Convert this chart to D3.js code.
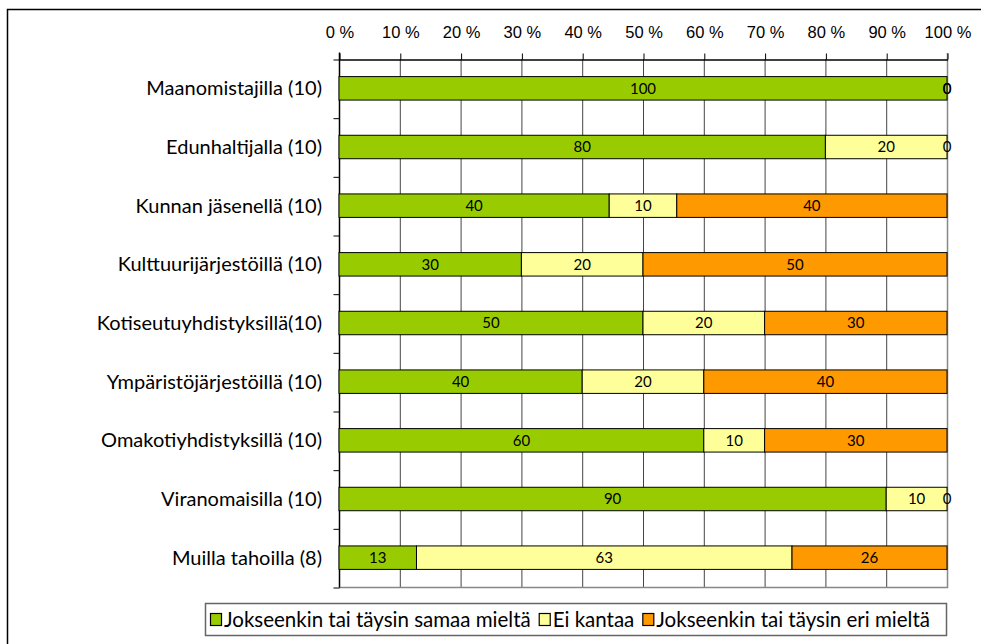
<!DOCTYPE html>
<html>
<head>
<meta charset="utf-8">
<script src="https://cdn.jsdelivr.net/npm/d3@7"></script>
<style>
  body { margin: 0; background: #fff; }
  svg { display: block; font-family: Lato, "Open Sans", sans-serif; }
</style>
</head>
<body>
<svg width="981" height="644"></svg>
<script>
// categories and the three answer shares (as printed on the bars)
const categories = [
  'Maanomistajilla (10)',
  'Edunhaltijalla (10)',
  'Kunnan jäsenellä (10)',
  'Kulttuurijärjestöillä (10)',
  'Kotiseutuyhdistyksillä(10)',
  'Ympäristöjärjestöillä (10)',
  'Omakotiyhdistyksillä (10)',
  'Viranomaisilla (10)',
  'Muilla tahoilla (8)'
];
const samaa = [100, 80, 40, 30, 50, 40, 60, 90, 13];
const eiKantaa = [0, 20, 10, 20, 20, 20, 10, 10, 63];
const eri = [0, 0, 40, 50, 30, 40, 30, 0, 26];
const seriesNames = ['Jokseenkin tai täysin samaa mieltä', 'Ei kantaa', 'Jokseenkin tai täysin eri mieltä'];
const seriesColors = ['#99cc00', '#ffff99', '#ff9900'];
const tickValues = [0, 10, 20, 30, 40, 50, 60, 70, 80, 90, 100];

const svg = d3.select('svg');
const margin = { top: 59, left: 339, right: 947, bottom: 587 };

// outer frame (runs off the right and bottom of the picture)
svg.append('rect')
  .attr('x', 7.5).attr('y', 9.5)
  .attr('width', 1000).attr('height', 700)
  .attr('fill', 'none').attr('stroke', '#000').attr('stroke-width', 1.5);

const x = d3.scaleLinear().domain([0, 100]).range([margin.left, margin.right]);
const y = d3.scaleBand().domain(categories)
  .range([margin.top, margin.bottom])
  .paddingInner(0.6).paddingOuter(0.3);

// gridlines
svg.append('g').selectAll('line')
  .data(tickValues.slice(1, -1))
  .join('line')
  .attr('x1', d => x(d) + 0.5).attr('x2', d => x(d) + 0.5)
  .attr('y1', margin.top).attr('y2', margin.bottom)
  .attr('stroke', '#444').attr('stroke-width', 1);

// right and bottom plot border (grey)
svg.append('path')
  .attr('d', `M${x(100) + 0.5},${margin.top - 6}V${margin.bottom + 0.5}H${margin.left}`)
  .attr('fill', 'none').attr('stroke', '#888').attr('stroke-width', 1.5);

// top axis
const xAxis = d3.axisTop(x)
  .tickValues(tickValues)
  .tickFormat(d => d + ' %')
  .tickSize(6).tickPadding(16).tickSizeOuter(0);
const gx = svg.append('g')
  .attr('transform', `translate(0.5,${margin.top + 0.5})`)
  .call(xAxis);
gx.select('.domain').attr('stroke', '#000').attr('stroke-width', 1.5);
gx.selectAll('.tick line').attr('stroke', '#000');
gx.selectAll('.tick text').attr('font-size', 16.5).attr('fill', '#000');

// left axis with ticks between categories
const yEdge = d3.scaleLinear().domain([0, categories.length]).range([margin.top, margin.bottom]);
const gy = svg.append('g')
  .attr('transform', `translate(${margin.left + 0.5},0.5)`)
  .call(d3.axisLeft(yEdge).ticks(categories.length).tickFormat('').tickSize(6).tickSizeOuter(0));
gy.select('.domain').attr('stroke', '#000').attr('stroke-width', 1.5)
  .attr('d', `M0,${margin.top - 7}V${margin.bottom}`);
gy.selectAll('.tick line').attr('stroke', '#000');

// category labels
svg.append('g').selectAll('text')
  .data(categories)
  .join('text')
  .attr('x', 322)
  .attr('y', d => y(d) + y.bandwidth() / 2)
  .attr('dy', '0.35em')
  .attr('text-anchor', 'end')
  .attr('font-size', 20)
  .text(d => d);

// stacked 100 % bars
const rows = categories.map((c, i) => ({ cat: c, s0: samaa[i], s1: eiKantaa[i], s2: eri[i] }));
const stack = d3.stack().keys(['s0', 's1', 's2']).offset(d3.stackOffsetExpand);
const layers = stack(rows);

const gBars = svg.append('g');
layers.forEach((layer, k) => {
  gBars.append('g').selectAll('rect')
    .data(layer)
    .join('rect')
    .attr('x', d => x(d[0] * 100))
    .attr('y', d => y(d.data.cat))
    .attr('width', d => x(d[1] * 100) - x(d[0] * 100))
    .attr('height', y.bandwidth())
    .attr('fill', seriesColors[k])
    .attr('stroke', '#000').attr('stroke-width', 1);
});

// value labels
layers.forEach(layer => {
  svg.append('g').selectAll('text')
    .data(layer)
    .join('text')
    .attr('x', d => x((d[0] + d[1]) / 2 * 100))
    .attr('y', d => y(d.data.cat) + y.bandwidth() / 2)
    .attr('dy', '0.36em')
    .attr('text-anchor', 'middle')
    .attr('font-size', 15)
    .text(d => d.data[layer.key]);
});

// legend
const legend = svg.append('g');
legend.append('rect')
  .attr('x', 205.5).attr('y', 603.5).attr('width', 741).attr('height', 32)
  .attr('fill', '#fff').attr('stroke', '#666').attr('stroke-width', 1.5);
let lx = 210;
seriesNames.forEach((name, i) => {
  legend.append('rect')
    .attr('x', lx + 0.5).attr('y', 613.5).attr('width', 11).attr('height', 12)
    .attr('fill', seriesColors[i]).attr('stroke', '#000').attr('stroke-width', 1.2);
  const t = legend.append('text')
    .attr('x', lx + 14).attr('y', 620)
    .attr('dy', '0.36em')
    .attr('font-size', 20.5)
    .text(name);
  lx += 14 + t.node().getComputedTextLength() + 8;
});
</script>
</body>
</html>
